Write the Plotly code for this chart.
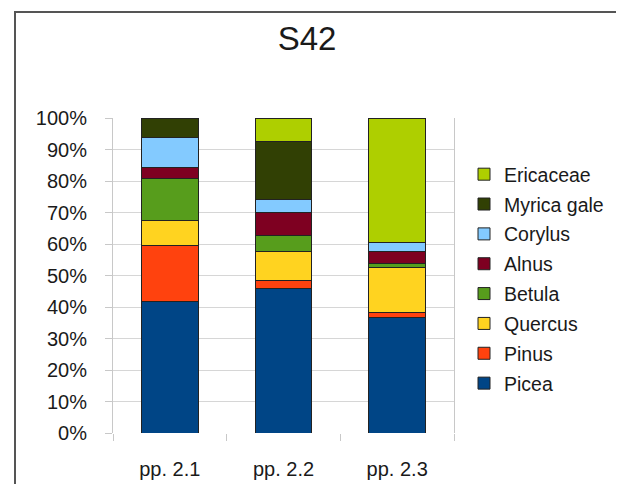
import plotly.graph_objects as go

samples = ["pp. 2.1", "pp. 2.2", "pp. 2.3"]

picea = [41.6, 45.9, 36.8]
pinus = [17.8, 2.6, 1.6]
quercus = [8.1, 9.1, 14.1]
betula = [13.3, 5.1, 1.4]
alnus = [3.4, 7.3, 3.6]
corylus = [9.6, 4.0, 3.1]
myrica_gale = [6.2, 18.7, 0.0]
ericaceae = [0.0, 7.3, 39.4]

series = [
    ("Picea", picea, "#004586"),
    ("Pinus", pinus, "#ff420e"),
    ("Quercus", quercus, "#ffd320"),
    ("Betula", betula, "#579d1c"),
    ("Alnus", alnus, "#7e0021"),
    ("Corylus", corylus, "#83caff"),
    ("Myrica gale", myrica_gale, "#314004"),
    ("Ericaceae", ericaceae, "#aecf00"),
]

txt = "#1a1a1a"
font = "Liberation Sans, Arial, sans-serif"

# page body adds an 8px margin, so the figure is drawn 8px smaller / shifted
fig = go.Figure()
for i, (name, vals, col) in enumerate(series):
    fig.add_trace(go.Bar(
        x=samples, y=vals, name=name, legendgroup=name,
        legendrank=1000 - i,  # top of stack listed first
        marker=dict(color=col, line=dict(color="#222222", width=1)),
        width=0.5,
    ))

fig.update_layout(
    width=616, height=476,
    barmode="stack",
    paper_bgcolor="white", plot_bgcolor="white",
    margin=dict(l=105, r=170, t=110, b=51, autoexpand=False),
    font=dict(family=font, size=20, color=txt),
    title=dict(text="S42", x=(307 - 113) / 341, xref="paper", xanchor="center",
               y=1 - 30 / 476, yanchor="middle", font=dict(size=33, color=txt)),
    legend=dict(traceorder="grouped", x=(464 - 113) / 341, xanchor="left",
                y=(433 - 279) / 315, yanchor="middle",
                font=dict(size=19.5, color=txt), tracegroupgap=1.5,
                itemwidth=30, bgcolor="rgba(0,0,0,0)"),
    showlegend=True,
)
fig.update_xaxes(
    automargin=False,
    showgrid=False, showline=False, zeroline=False,
    ticks="outside", tickson="boundaries", ticklen=7, tickcolor="#c8c8c8",
    ticklabelstandoff=22,
)
fig.update_yaxes(
    automargin=False,
    range=[0, 100], dtick=10, ticksuffix="%",
    showgrid=True, gridcolor="#d6d6d6", gridwidth=1,
    showline=True, linecolor="#c8c8c8", linewidth=1, mirror=True,
    zeroline=False,
    ticks="outside", ticklen=7, tickcolor="#c8c8c8",
    ticklabelstandoff=14,
)

# outer chart frame
fig.add_shape(type="rect", xref="paper", yref="paper",
              x0=(15 - 113) / 341, x1=(621 - 113) / 341,
              y0=-0.4, y1=(433 - 12) / 315,
              line=dict(color="#555555", width=2), layer="below")

fig.write_html("out.html")
